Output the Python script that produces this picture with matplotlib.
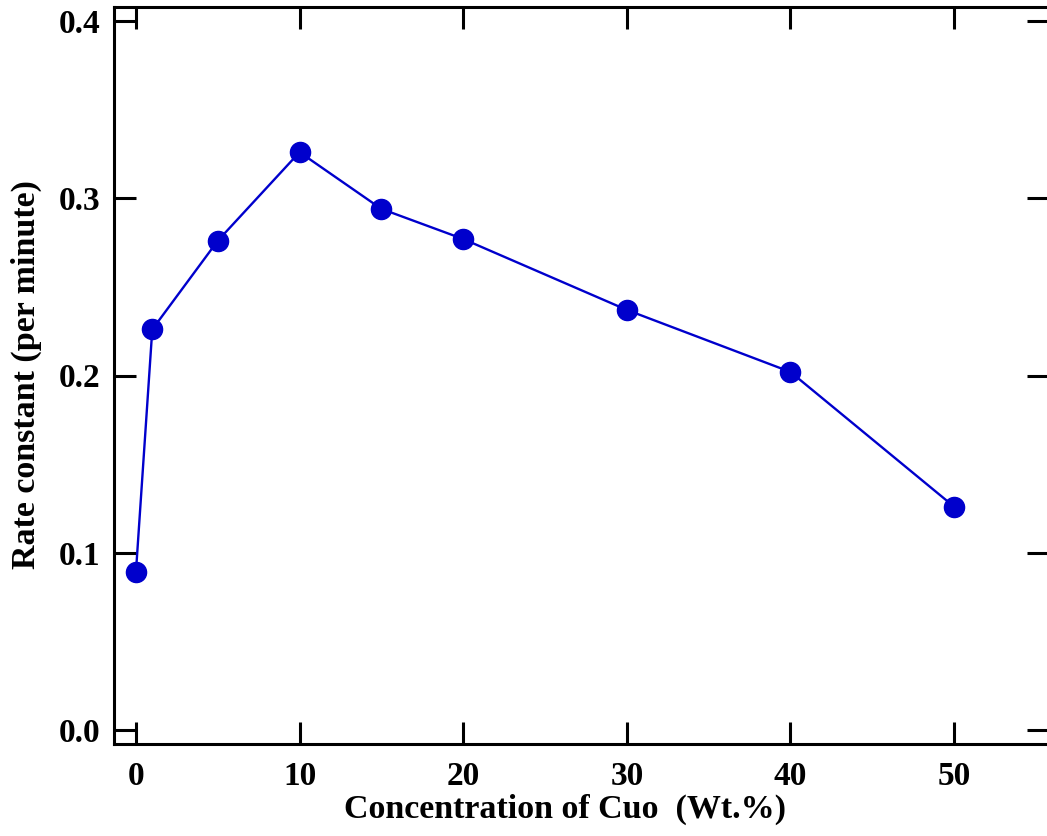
import matplotlib
matplotlib.use("Agg")
import matplotlib.pyplot as plt

concentration = [0, 1, 5, 10, 15, 20, 30, 40, 50]
rate_constant = [0.089, 0.226, 0.276, 0.326, 0.294, 0.277, 0.237, 0.202, 0.126]
x_ticks = [0, 10, 20, 30, 40, 50]
y_ticks = [0.0, 0.1, 0.2, 0.3, 0.4]
y_tick_labels = ["0.0", "0.1", "0.2", "0.3", "0.4"]

plt.rcParams['font.family'] = ['Liberation Serif', 'DejaVu Serif']
plt.rcParams['font.weight'] = 'bold'

fig = plt.figure(figsize=(10.47, 8.36), dpi=100)
ax = fig.add_axes([114/1047, 1 - 744/836, (1049 - 114)/1047, (744 - 7)/836])

ax.plot(concentration, rate_constant, color='#0000CC', linewidth=1.7,
        marker='o', markersize=14.5, markerfacecolor='#0000CC', markeredgecolor='#0000CC')

ax.set_xlim(-1.34, 55.8)
ax.set_ylim(-0.0079, 0.4079)
ax.set_xticks(x_ticks)
ax.set_yticks(y_ticks)
ax.set_yticklabels(y_tick_labels)

for s in ax.spines.values():
    s.set_linewidth(2.2)

ax.tick_params(axis='both', which='major', direction='in', length=16, width=2.2,
               top=True, right=True, labelsize=24)
ax.tick_params(axis='x', pad=12)
ax.tick_params(axis='y', pad=10)
for lab in ax.get_xticklabels() + ax.get_yticklabels():
    lab.set_fontweight('bold')

fig.text(565/1047, 1 - 818/836, "Concentration of Cuo  (Wt.%)", ha='center', va='baseline',
         fontsize=24.5, fontweight='bold')
fig.text(26/1047, 1 - 375/836, "Rate constant (per minute)", ha='center', va='center',
         rotation=90, fontsize=24.5, fontweight='bold')

fig.savefig("out.png", dpi=100)
